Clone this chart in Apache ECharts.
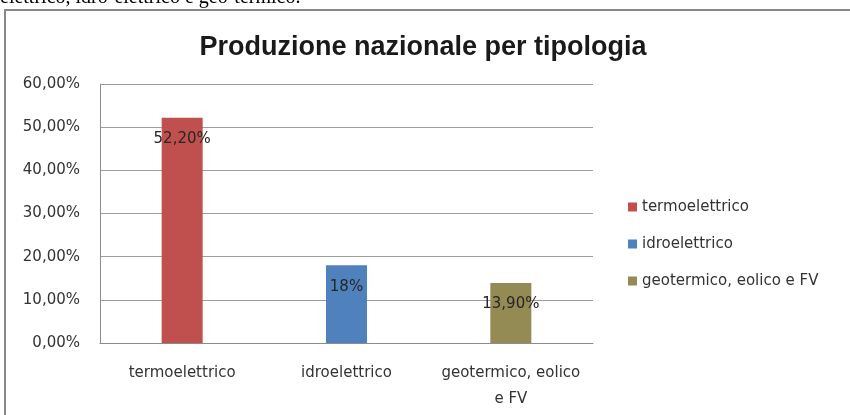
<!DOCTYPE html>
<html>
<head>
<meta charset="utf-8">
<script src="https://cdn.jsdelivr.net/npm/echarts@6/dist/echarts.min.js"></script>
<style>
html, body { margin: 0; padding: 0; background: #fff; }
#chart { width: 850px; height: 415px; }
</style>
</head>
<body>
<div id="chart"></div>
<script>
// dati
var categories = ['termoelettrico', 'idroelettrico', 'geotermico, eolico\ne FV'];
var seriesNames = ['termoelettrico', 'idroelettrico', 'geotermico, eolico e FV'];
var values = [52.2, 18, 13.9];
var dataLabels = ['52,20%', '18%', '13,90%'];
var colors = ['#c0504d', '#4f81bd', '#948a54'];

var font = '"DejaVu Sans", sans-serif';
var chart = echarts.init(document.getElementById('chart'));

// una serie per categoria, così la legenda mostra tre voci
var series = seriesNames.map(function (name, i) {
  var data = categories.map(function (c, j) { return j === i ? values[i] : null; });
  return {
    name: name,
    type: 'bar',
    stack: 'tot',
    barWidth: 41,
    data: data,
    itemStyle: { color: colors[i] },
    label: {
      show: true,
      position: 'insideTop',
      distance: 14,
      formatter: function () { return dataLabels[i]; },
      color: '#262626',
      fontSize: 15,
      fontFamily: font
    }
  };
});

chart.setOption({
  animation: false,
  title: {
    text: 'Produzione nazionale per tipologia',
    left: 418,
    textAlign: 'center',
    top: 29,
    textStyle: { fontFamily: 'Liberation Sans, Arial, sans-serif', fontWeight: 'bold', fontSize: 27, color: '#1a1a1a' }
  },
  graphic: [{
    type: 'rect',
    shape: { x: 5, y: 10, width: 860, height: 430 },
    style: { fill: 'none', stroke: '#878787', lineWidth: 2 },
    silent: true
  }, {
    type: 'text',
    left: 0,
    top: -12,
    style: { text: 'elettrico, idro-elettrico e geo-termico.', font: '20px "Liberation Serif", serif', fill: '#000' },
    silent: true
  }],
  legend: {
    orient: 'vertical',
    left: 623,
    top: 193,
    itemWidth: 9,
    itemHeight: 9,
    itemGap: 19,
    icon: 'rect',
    textStyle: { fontFamily: font, fontSize: 15, color: '#333', lineHeight: 18 },
    data: seriesNames
  },
  grid: { left: 100, right: 257, top: 84, bottom: 72 },
  xAxis: {
    type: 'category',
    data: categories,
    axisLine: { lineStyle: { color: '#8c8c8c' } },
    axisTick: { show: false },
    axisLabel: { interval: 0, fontFamily: font, fontSize: 15, color: '#333', margin: 17, lineHeight: 26 }
  },
  yAxis: {
    type: 'value',
    min: 0,
    max: 60,
    interval: 10,
    axisLine: { show: true, lineStyle: { color: '#8c8c8c' } },
    axisTick: { show: false },
    splitLine: { lineStyle: { color: '#9d9d9d' } },
    axisLabel: {
      fontFamily: font,
      fontSize: 15,
      color: '#333',
      margin: 20,
      formatter: function (v) { return v.toFixed(2).replace('.', ',') + '%'; }
    }
  },
  series: series
});
</script>
</body>
</html>
